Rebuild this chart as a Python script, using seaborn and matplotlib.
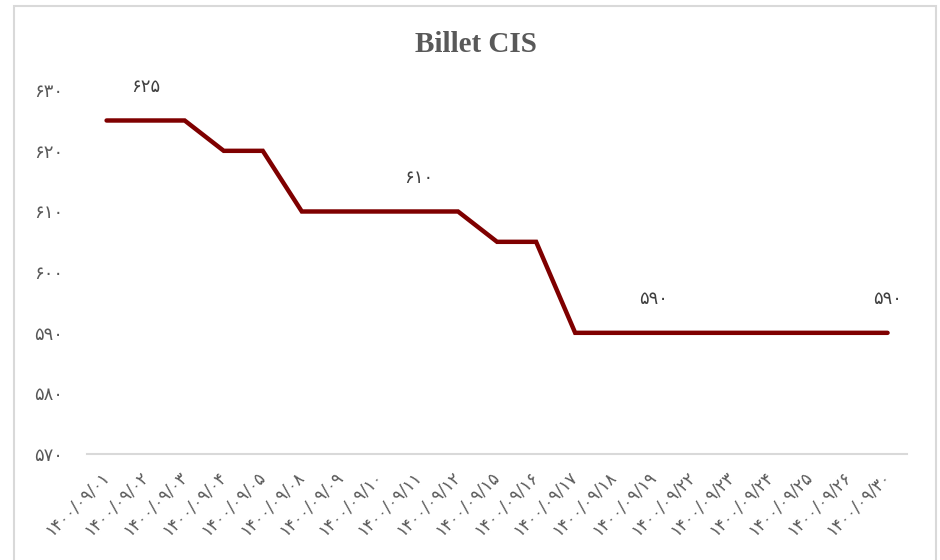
import matplotlib.pyplot as plt
import pandas as pd
import seaborn as sns
from matplotlib.patches import Rectangle

# Data
dates = ['۱۴۰۰/۰۹/۰۱', '۱۴۰۰/۰۹/۰۲', '۱۴۰۰/۰۹/۰۳', '۱۴۰۰/۰۹/۰۴', '۱۴۰۰/۰۹/۰۵',
         '۱۴۰۰/۰۹/۰۸', '۱۴۰۰/۰۹/۰۹', '۱۴۰۰/۰۹/۱۰', '۱۴۰۰/۰۹/۱۱', '۱۴۰۰/۰۹/۱۲',
         '۱۴۰۰/۰۹/۱۵', '۱۴۰۰/۰۹/۱۶', '۱۴۰۰/۰۹/۱۷', '۱۴۰۰/۰۹/۱۸', '۱۴۰۰/۰۹/۱۹',
         '۱۴۰۰/۰۹/۲۲', '۱۴۰۰/۰۹/۲۳', '۱۴۰۰/۰۹/۲۴', '۱۴۰۰/۰۹/۲۵', '۱۴۰۰/۰۹/۲۶',
         '۱۴۰۰/۰۹/۳۰']
prices = [625, 625, 625, 620, 620, 610, 610, 610, 610, 610, 605, 605,
          590, 590, 590, 590, 590, 590, 590, 590, 590]
labelled = [1, 8, 14, 20]
y_ticks = [570, 580, 590, 600, 610, 620, 630]

persian = str.maketrans('0123456789', '۰۱۲۳۴۵۶۷۸۹')

df = pd.DataFrame({'idx': range(len(dates)), 'price': prices})

sns.set_theme(style='white')
plt.rcParams['font.family'] = ['DejaVu Sans']

fig = plt.figure(figsize=(9.4, 5.6), dpi=100)
ax = fig.add_axes([0.0926, 0.189, 0.8724, 0.650])

sns.lineplot(x='idx', y='price', data=df, ax=ax, color='#7f0000',
             linewidth=3.2, solid_capstyle='round', solid_joinstyle='miter')

for i in labelled:
    ax.annotate(str(prices[i]).translate(persian), (i, prices[i]),
                xytext=(0, 24), textcoords='offset points', ha='center',
                va='center', fontsize=13, color='#404040')

ax.set_xlim(-0.5, len(dates) - 0.5)
ax.set_ylim(570, 630)
ax.set_yticks(y_ticks)
ax.set_yticklabels([str(v).translate(persian) for v in y_ticks],
                   fontsize=13, color='#595959')
ax.set_xticks(range(len(dates)))
ax.set_xticklabels(dates, rotation=45, ha='right', va='center', rotation_mode='anchor',
                   fontsize=12, color='#595959')
ax.tick_params(axis='y', length=0, pad=17)
ax.tick_params(axis='x', length=0, pad=14)
ax.set(xlabel='', ylabel='')
for s in ['top', 'right', 'left']:
    ax.spines[s].set_visible(False)
ax.spines['bottom'].set_color('#d9d9d9')
ax.spines['bottom'].set_linewidth(1.5)
ax.grid(False)

fig.text(0.506, 0.92, 'Billet CIS', ha='center', va='center',
         fontsize=21, fontweight='bold', color='#595959',
         family='Liberation Serif')

fig.patches.append(Rectangle((14 / 940, -0.05), 922 / 940, 1.04, transform=fig.transFigure,
                             fill=False, edgecolor='#d9d9d9', linewidth=1.5))

fig.savefig('out.png', dpi=100)
